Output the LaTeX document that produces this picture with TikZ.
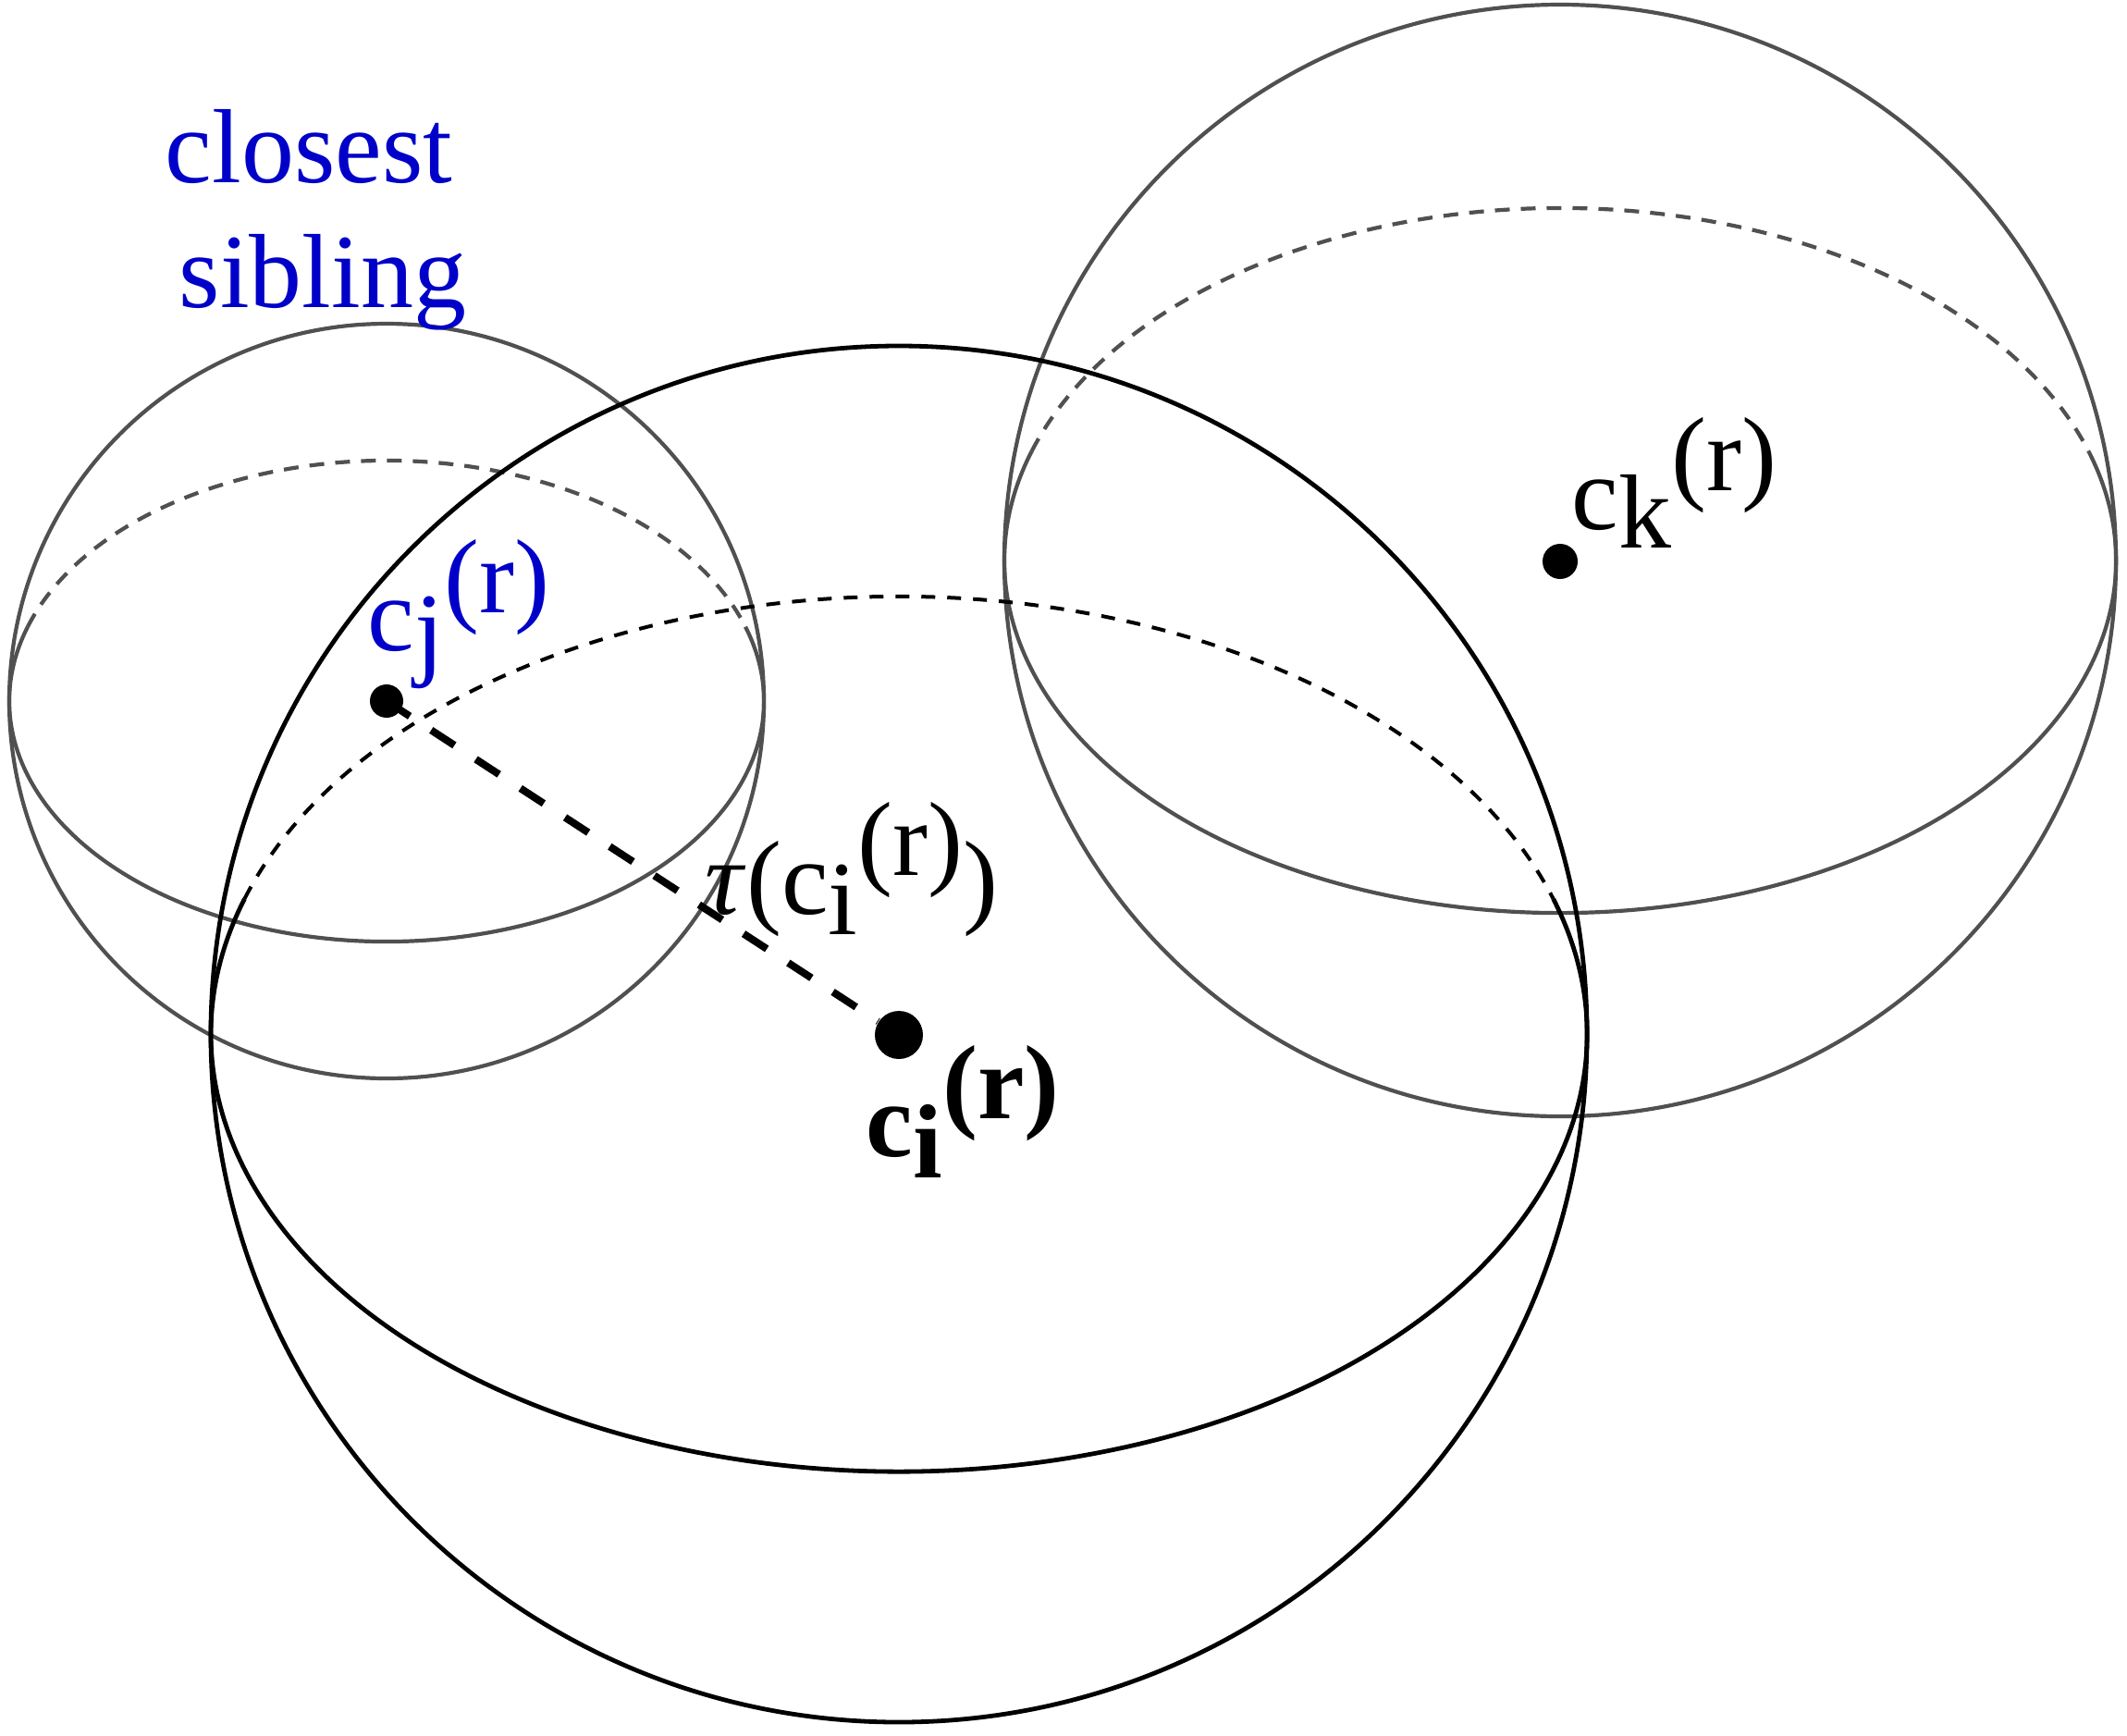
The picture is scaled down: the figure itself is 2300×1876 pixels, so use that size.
\documentclass[tikz,border=0pt]{standalone}
\usepackage{fontspec}
\setmainfont{Liberation Serif}
\definecolor{sibblue}{RGB}{0,0,200}
\definecolor{sgray}{RGB}{80,80,80}
\begin{document}
\begin{tikzpicture}[x=0.25pt,y=-0.25pt,
  graysph/.style={draw=sgray,line width=1.05pt},
  blacksph/.style={draw=black,line width=1.2pt},
  graydash/.style={draw=sgray,line width=1.05pt,dash pattern=on 4pt off 3pt},
  blackdash/.style={draw=black,line width=1pt,dash pattern=on 3.75pt off 3.25pt},
  dot/.style={circle,fill=black,inner sep=0pt,minimum size=#1},
  link/.style={draw=black,line width=2pt,dash pattern=on 7.5pt off 6.9pt},
  lbl/.style={inner sep=0pt,anchor=base west,font=\fontsize{28.5}{34}\selectfont}
]
\useasboundingbox (0,0) rectangle (2300,1876);

% sphere j (closest sibling)
\draw[graysph] (418,758) circle[radius=408];
\draw[graysph] (418,758) ++(-18:408 and 260) arc[start angle=-18, end angle=198, x radius=408, y radius=260];
\draw[graydash] (418,758) ++(198:408 and 260) arc[start angle=198, end angle=342, x radius=408, y radius=260];

% sphere k
\draw[graysph] (1687,606) circle[radius=601];
\draw[graysph] (1687,606) ++(-18:601 and 381) arc[start angle=-18, end angle=198, x radius=601, y radius=381];
\draw[graydash] (1687,606) ++(198:601 and 381) arc[start angle=198, end angle=342, x radius=601, y radius=381];

% sphere i
\draw[blacksph] (972,1118) circle[radius=744];
\draw[blacksph] (972,1118) ++(-18:744 and 473) arc[start angle=-18, end angle=198, x radius=744, y radius=473];
\draw[blackdash] (972,1118) ++(198:744 and 473) arc[start angle=198, end angle=342, x radius=744, y radius=473];

% centres
\node[dot=9pt] (cj) at (418,758) {};
\node[dot=13pt] (ci) at (972,1119) {};
\node[dot=9.5pt] (ck) at (1687,607) {};

\draw[link] (cj.center) -- (ci);

% labels
\node[lbl,text=sibblue] (t1) at (178,197) {closest};
\node[lbl,text=sibblue] (t2) at (193,332) {sibling};
\node[lbl,text=sibblue] (lj) at (397,703) {c\raisebox{-4.25pt}{j}\raisebox{10.25pt}{(r)}};
\node[lbl] (lk) at (1699,572) {c\raisebox{-5pt}{k}\raisebox{10.5pt}{(r)}};
\node[lbl] (lt) at (762,988) {\textit{τ}(c\raisebox{-5.5pt}{i}\raisebox{10.5pt}{(r)})};
\node[lbl,font=\fontsize{28.5}{34}\selectfont\bfseries] (li) at (936,1250) {c\raisebox{-5.75pt}{i}\raisebox{10.25pt}{(r)}};
\end{tikzpicture}
\end{document}
